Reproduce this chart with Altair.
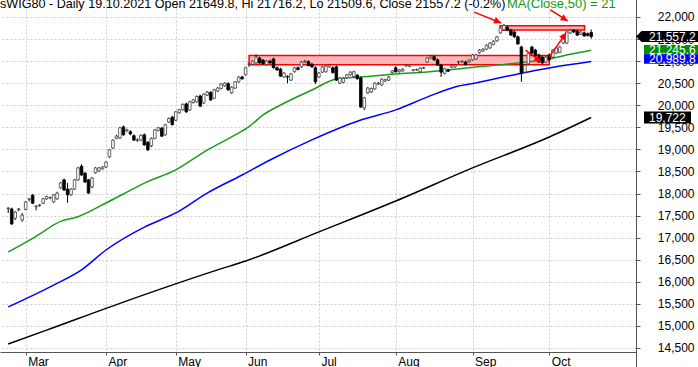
import altair as alt
import pandas as pd

# ---------------- data ----------------
holidays = ["2021-04-02", "2021-04-05", "2021-05-03", "2021-06-03"]
days = [d for d in pd.bdate_range("2021-02-22", "2021-10-19") if d.strftime("%Y-%m-%d") not in holidays]

opens = [
    17660, 17650, 17440, 17630, 17400, 17640, 17870, 17960, 17700, 17730,
    17780, 17880, 17900, 17810, 17880, 18130, 18310, 18100, 17970, 18100,
    18310, 18620, 18460, 18310, 18150, 18470, 18510, 18560, 18600, 18830,
    19030, 19250, 19260, 19510, 19420, 19400, 19310, 19200, 19210, 19330,
    19160, 19080, 19250, 19430, 19480, 19330, 19620, 19730, 19660, 19830,
    19900, 20030, 19890, 20060, 20080, 20210, 20050, 20230, 20290, 20160,
    20320, 20380, 20440, 20490, 20280, 20390, 20530, 20640, 20690, 20930,
    20930, 20960, 21070, 21020, 20920, 21000, 21050, 20850, 20820, 20640,
    20650, 20570, 20760, 20850, 20870, 20980, 20990, 20930, 20850, 20640,
    20750, 20760, 20870, 20850, 20870, 20500, 20520, 20620, 20690, 20650,
    20680, 20620, 19940, 20280, 20300, 20370, 20480, 20460, 20550, 20570,
    20740, 20850, 20760, 20780, 20890, 20880, 20790, 20800, 20760, 20840,
    20980, 21070, 21100, 21030, 20910, 20720, 20800, 20860, 20870, 20980,
    20980, 20980, 20980, 21030, 21050, 21190, 21230, 21270, 21300, 21380,
    21460, 21640, 21710, 21770, 21700, 21660, 21550, 21320, 20750, 20940,
    21320, 21250, 21140, 21090, 20980, 21140, 21090, 21180, 21200, 21410,
    21410, 21640, 21700, 21680, 21610, 21640, 21620, 21649.8,
]
highs = [
    17690, 17680, 17600, 17670, 17560, 17830, 17900, 17990, 17730, 17760,
    17900, 17950, 17930, 17990, 18040, 18260, 18340, 18240, 18120, 18330,
    18600, 18660, 18490, 18330, 18370, 18600, 18600, 18620, 18730, 19010,
    19230, 19330, 19510, 19540, 19470, 19430, 19340, 19250, 19340, 19360,
    19190, 19270, 19460, 19510, 19510, 19580, 19720, 19760, 19870, 19920,
    20040, 20060, 20100, 20140, 20220, 20240, 20270, 20320, 20320, 20370,
    20410, 20500, 20520, 20520, 20430, 20550, 20660, 20670, 20870, 20960,
    21020, 21150, 21100, 21050, 21020, 21030, 21080, 20880, 20850, 20750,
    20680, 20730, 20870, 20880, 21000, 21030, 21020, 20960, 20880, 20750,
    20890, 20910, 20940, 20880, 20900, 20640, 20630, 20710, 20770, 20780,
    20710, 20650, 20190, 20410, 20400, 20520, 20530, 20610, 20600, 20660,
    20800, 20880, 20820, 20840, 20930, 20930, 20820, 20830, 20860, 20870,
    21090, 21130, 21130, 21060, 20940, 20850, 20830, 20920, 20930, 21010,
    21020, 21010, 21040, 21160, 21160, 21270, 21290, 21380, 21430, 21470,
    21570, 21770, 21840, 21800, 21730, 21690, 21580, 21350, 20930, 21200,
    21350, 21280, 21170, 21120, 21110, 21170, 21270, 21320, 21340, 21610,
    21680, 21720, 21730, 21710, 21680, 21670, 21650, 21716.2,
]
lows = [
    17560, 17290, 17400, 17600, 17360, 17620, 17820, 17760, 17620, 17700,
    17760, 17860, 17870, 17790, 17860, 18110, 18060, 17790, 17950, 18080,
    18290, 18400, 18240, 17990, 18120, 18450, 18490, 18540, 18580, 18810,
    19010, 19230, 19240, 19310, 19400, 19320, 19190, 19170, 19190, 19080,
    18960, 19050, 19230, 19410, 19280, 19310, 19600, 19540, 19640, 19810,
    19880, 19830, 19870, 20040, 20060, 19960, 20030, 20210, 20100, 20140,
    20300, 20360, 20420, 20330, 20260, 20370, 20510, 20580, 20670, 20870,
    20910, 20940, 20940, 20920, 20900, 20940, 20830, 20780, 20640, 20620,
    20500, 20550, 20740, 20790, 20850, 20960, 20880, 20850, 20480, 20620,
    20730, 20740, 20850, 20720, 20550, 20480, 20500, 20600, 20670, 20630,
    20580, 19940, 19890, 20260, 20280, 20350, 20460, 20440, 20530, 20550,
    20720, 20740, 20740, 20760, 20870, 20860, 20770, 20780, 20740, 20820,
    20960, 21050, 21010, 20890, 20640, 20700, 20750, 20840, 20850, 20930,
    20960, 20900, 20960, 21010, 21030, 21170, 21210, 21250, 21280, 21360,
    21440, 21620, 21690, 21680, 21570, 21530, 21370, 20530, 20730, 20920,
    21160, 21100, 20960, 20940, 20960, 21010, 21070, 21160, 21180, 21390,
    21390, 21620, 21640, 21570, 21590, 21550, 21560, 21509.6,
]
closes = [
    17670, 17310, 17580, 17650, 17510, 17810, 17880, 17780, 17720, 17740,
    17880, 17930, 17910, 17970, 18010, 18240, 18080, 17970, 18100, 18310,
    18580, 18420, 18260, 18010, 18350, 18580, 18580, 18600, 18710, 18990,
    19210, 19300, 19490, 19330, 19440, 19350, 19210, 19220, 19320, 19100,
    18990, 19250, 19440, 19490, 19300, 19560, 19700, 19560, 19850, 19900,
    20020, 19850, 20080, 20120, 20200, 19980, 20250, 20300, 20120, 20350,
    20390, 20480, 20500, 20350, 20410, 20530, 20640, 20600, 20850, 20940,
    21000, 21090, 20960, 20940, 21000, 20960, 20850, 20800, 20660, 20730,
    20640, 20710, 20850, 20810, 20980, 21000, 20900, 20870, 20530, 20730,
    20870, 20890, 20910, 20740, 20570, 20620, 20610, 20690, 20750, 20760,
    20600, 19960, 20170, 20390, 20380, 20500, 20500, 20590, 20580, 20640,
    20780, 20760, 20800, 20820, 20910, 20910, 20800, 20810, 20840, 20850,
    21070, 21110, 21030, 20910, 20750, 20830, 20770, 20900, 20910, 20990,
    21000, 20920, 21020, 21140, 21140, 21250, 21270, 21360, 21410, 21450,
    21550, 21750, 21810, 21700, 21590, 21550, 21390, 20730, 20910, 21180,
    21180, 21120, 20980, 20960, 21090, 21030, 21250, 21300, 21320, 21590,
    21660, 21700, 21660, 21590, 21660, 21570, 21580, 21557.2,
]

# moving averages (trading-day index, value)
ma50_idx = [0, 8, 15, 20, 28, 33, 39, 48, 57, 64, 69, 73, 78, 87, 94, 101, 111, 120, 132, 141, 146, 155, 160, 167]
ma50_val = [16675, 17030, 17370, 17475, 17785, 17990, 18235, 18535, 18985, 19285, 19515, 19780, 20005, 20345,
            20595, 20640, 20710, 20755, 20850, 20915, 20960, 21050, 21140, 21245.6]
ma100_idx = [0, 13, 21, 28, 39, 48, 57, 67, 75, 87, 101, 111, 120, 128, 134, 146, 155, 167]
ma100_val = [15430, 15925, 16270, 16720, 17240, 17560, 18010, 18420, 18760, 19215, 19665, 19895, 20185, 20415,
             20505, 20710, 20845, 20989.8]
ma200_idx = [0, 11, 33, 60, 68, 89, 111, 133, 155, 167]
ma200_val = [14590, 14905, 15540, 16270, 16470, 17130, 17830, 18580, 19280, 19722]

y_ticks = [14500, 15000, 15500, 16000, 16500, 17000, 17500, 18000, 18500, 19000, 19500, 20000, 20500, 21000,
           21500, 22000]

# annotation zones (index range, price range)
zone_x1 = [69.0, 140.9]
zone_x2 = [155.0, 165.1]
zone_lo = [20920, 21705]
zone_hi = [21130, 21800]

# arrows (from -> to, in index / price)
arr_x1 = [133.5, 155.3, 148.2, 155.0]
arr_y1 = [22110, 22160, 21250, 21095]
arr_x2 = [141.2, 160.3, 152.7, 159.8]
arr_y2 = [21865, 21910, 20980, 21640]
arr_angle = [112, 121, 127, 35]

title_main = "sWIG80 - Daily 19.10.2021 Open 21649.8, Hi 21716.2, Lo 21509.6, Close 21557.2 (-0.2%)"
title_ma = "MA(Close,50) = 21"

# ---------------- frames ----------------
cdf = pd.DataFrame({"i": list(range(len(days))), "o": opens, "h": highs, "l": lows, "c": closes})
cdf["up"] = cdf["c"] >= cdf["o"]
up_df = cdf[cdf["up"]]
dn_df = cdf[~cdf["up"]]

tick_idx = [i for i in range(1, len(days)) if days[i].month != days[i - 1].month]
tick_lab = [days[i].strftime("%b") for i in tick_idx]
label_expr = " : ".join(f"datum.value == {i} ? '{m}'" for i, m in zip(tick_idx, tick_lab)) + " : ''"

FONT = "Liberation Sans"
xs = alt.Scale(domain=[-0.92, 178.4], nice=False, zero=False)
ys = alt.Scale(domain=[14409, 22385], nice=False, zero=False)

x_axis = alt.Axis(values=tick_idx, labelExpr=label_expr, grid=True, gridDash=[2, 2], gridColor="#cccccc",
                  domainColor="#555555", tickColor="#555555", tickSize=3, labelAlign="left",
                  labelBaseline="top", labelPadding=1, labelOffset=2, labelFontSize=12, labelFont=FONT,
                  labelColor="#000000", title=None, labelFlush=False, labelOverlap=False)
y_axis = alt.Axis(orient="right", values=y_ticks, format=",.0f", grid=True, gridDash=[2, 2],
                  gridColor="#cccccc", domainColor="#555555", tickColor="#555555", tickSize=4,
                  labelAlign="right", labelPadding=54, labelFontSize=12, labelFont=FONT, labelColor="#000000",
                  title=None, labelFlush=False, labelOverlap=False)


def X(f):
    return alt.X(f, scale=xs, axis=x_axis)


def Y(f):
    return alt.Y(f, scale=ys, axis=y_axis)


zones = alt.Chart(pd.DataFrame({"x1": zone_x1, "x2": zone_x2, "lo": zone_lo, "hi": zone_hi})).mark_rect(
    fill="#ffb8b8", stroke="#ff0000", strokeWidth=1.5
).encode(x=X("x1:Q"), x2="x2:Q", y=Y("lo:Q"), y2="hi:Q")


def ma_line(idx, val, color):
    return alt.Chart(pd.DataFrame({"i": idx, "v": val})).mark_line(
        color=color, strokeWidth=1.5, interpolate="monotone"
    ).encode(x=X("i:Q"), y=Y("v:Q"))


l200 = ma_line(ma200_idx, ma200_val, "#000000")
l100 = ma_line(ma100_idx, ma100_val, "#0000ff")
l50 = ma_line(ma50_idx, ma50_val, "#1a9e1a")

wicks = alt.Chart(cdf).mark_rule(color="#000000", strokeWidth=1).encode(
    x=X("i:Q"), y=Y("l:Q"), y2="h:Q")
bodies_up = alt.Chart(up_df).mark_bar(size=2.6, fill="#ffffff", stroke="#444444", strokeWidth=0.8).encode(
    x=X("i:Q"), y=Y("o:Q"), y2="c:Q")
bodies_dn = alt.Chart(dn_df).mark_bar(size=2.6, fill="#000000", stroke="#000000", strokeWidth=0.8).encode(
    x=X("i:Q"), y=Y("o:Q"), y2="c:Q")

adf = pd.DataFrame({"x1": arr_x1, "y1": arr_y1, "x2": arr_x2, "y2": arr_y2, "a": arr_angle})
arrow_lines = alt.Chart(adf).mark_rule(color="#ff0000", strokeWidth=1.5).encode(
    x=X("x1:Q"), y=Y("y1:Q"), x2="x2:Q", y2="y2:Q")
arrow_heads = alt.Chart(adf).mark_point(
    shape="M0,0L0.5,1L-0.5,1Z", filled=True, color="#ff0000", size=200, opacity=1
).encode(x=X("x2:Q"), y=Y("y2:Q"), angle=alt.Angle("a:Q", scale=None))

# price tags at the right axis
tag_val = [21557.2, 21245.6, 20989.8, 19722]
tag_txt = ["21,557.2", "21,245.6", "20,989.8", "19,722"]
tag_col = ["#000000", "#008f00", "#0000ff", "#000000"]
tag_cx = [667, 671, 671, 667.5]
tag_w = [62, 54, 54, 47]
tag_tx = [649, 649, 649, 649]
tag_dy = [0, -0.5, -2.6, 0]
tag_shape = [
    "M-1,0L-0.82,-0.18L1,-0.18L1,0.18L-0.82,0.18Z",
    "M-1,-0.175L1,-0.175L1,0.175L-1,0.175Z",
    "M-1,-0.175L1,-0.175L1,0.175L-1,0.175Z",
    "M-1,-0.255L1,-0.255L1,0.255L-1,0.255Z",
]
tag_layers = []
for v, t, col, cx, w, tx, dy, shp in zip(tag_val, tag_txt, tag_col, tag_cx, tag_w, tag_tx, tag_dy, tag_shape):
    d = pd.DataFrame({"v": [v], "t": [t]})
    tag_layers.append(alt.Chart(d).mark_point(shape=shp, filled=True, color=col, size=w * w, opacity=1,
                                              clip=False, yOffset=dy).encode(
        x=alt.value(cx), y=Y("v:Q")))
    tag_layers.append(alt.Chart(d).mark_text(align="left", baseline="middle", color="#ffffff", fontSize=12,
                                             font=FONT, clip=False, yOffset=dy).encode(
        x=alt.value(tx), y=Y("v:Q"), text="t:N"))

right_line = alt.Chart(cdf).mark_rule(color="#555555", strokeWidth=1, clip=False).encode(
    x=alt.value(636.5), y=alt.value(0), y2=alt.value(367))

t1 = alt.Chart(pd.DataFrame({"t": [title_main]})).mark_text(
    align="left", baseline="alphabetic", fontSize=12.6, font=FONT, color="#000000", clip=True
).encode(x=alt.value(0), y=alt.value(7.5), text="t:N")
t2 = alt.Chart(pd.DataFrame({"t": [title_ma]})).mark_text(
    align="left", baseline="alphabetic", fontSize=13, font=FONT, color="#119911", clip=True
).encode(x=alt.value(507), y=alt.value(7.5), text="t:N")

chart = alt.layer(
    zones, l200, l100, l50, wicks, bodies_up, bodies_dn, arrow_lines, arrow_heads,
    right_line, *tag_layers, t1, t2
).properties(
    width=636, height=352,
    padding={"left": 0, "top": 0, "right": 62, "bottom": 15},
    autosize=alt.AutoSizeParams(type="none"),
    background="#ffffff",
).configure_view(stroke=None)

chart.save("out.html", embed_options={"renderer": "svg", "actions": False})
